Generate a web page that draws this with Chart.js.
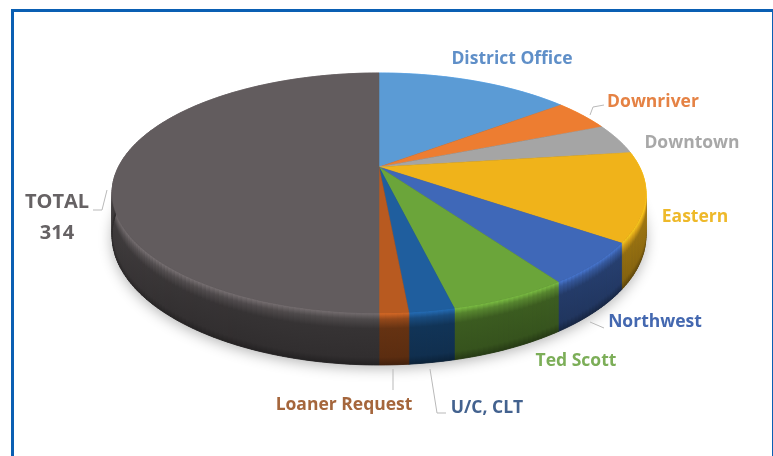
<!DOCTYPE html>
<html>
<head>
<meta charset="utf-8">
<title>Total 314</title>
<script src="https://cdn.jsdelivr.net/npm/chart.js@4"></script>
<style>
	html, body { margin: 0; padding: 0; background: #fff; overflow: hidden; }
	#wrap { position: relative; width: 773px; height: 456px; overflow: hidden; }
	#frame { position: absolute; left: 11px; top: 9px; width: 758px; height: 500px; border: 3px solid #0a5fb3; }
	canvas { position: absolute; left: 0; top: 0; filter: blur(0.7px); }
</style>
</head>
<body>
<div id="wrap">
	<div id="frame"></div>
	<canvas id="canvasPie" width="773" height="456"></canvas>
</div>
<script>
"use strict";

var categories = ['District Office', 'Downriver', 'Downtown', 'Eastern', 'Northwest', 'Ted Scott', 'U/C, CLT', 'Loaner Request', 'TOTAL'];
var values = [91, 27, 26, 75, 35, 37, 14, 9, 314];
var sliceColors = ['#5b9bd5', '#ed7d31', '#a5a5a5', '#f0b31a', '#3f68b8', '#6ba53a', '#1f5e9e', '#b85a20', '#625c5e'];
var labelColors = ['#5f8fc8', '#e58244', '#a8a8a8', '#eeb92a', '#4468b0', '#7cae58', '#43628f', '#a5663c', '#666264'];

// where each label sits (centre x, baseline y)
var labelSpots = [[512, 64], [653, 107], [692, 148], [695, 222], [655, 327], [576, 366], [487, 413], [344, 410], [57, 208]];
var labelSizes = [17.5, 17.5, 17.5, 17.5, 17.5, 17.5, 17.5, 17.5, 20];

// leader lines
var leaders = [
	[[590, 115], [593, 107], [604, 105]],
	[[590, 322], [604, 328]],
	[[393, 369], [393, 390]],
	[[430, 369], [437, 413], [446, 413]],
	[[107, 190], [102, 210], [93, 210]]
];

// perspective of the disc
var disc = { x: 379, y: 167, a: 260.6, b: 114.4, k: 0.2167, depth: 40.7 };

function Project(angle, t) {
	var u = Math.cos(angle);
	var v = Math.sin(angle);
	var w = 1 - disc.k * v;
	return {
		x: disc.x + disc.a * u / w,
		y: disc.y + (disc.b * v + disc.depth * t) / w
	};
}

function Shade(hex, f) {
	var n = parseInt(hex.slice(1), 16);
	var r = Math.min(255, Math.round((n >> 16 & 255) * f));
	var g = Math.min(255, Math.round((n >> 8 & 255) * f));
	var b = Math.min(255, Math.round((n & 255) * f));
	return `rgb(${r},${g},${b})`;
}

function RimPath(ctx, t) {
	ctx.beginPath();
	for (var d = 0; d < 360; d += 2) {
		var p = Project(d * Math.PI / 180, t);
		if (d === 0) ctx.moveTo(p.x, p.y);
		else ctx.lineTo(p.x, p.y);
	}
	ctx.closePath();
}

function DrawWall(ctx, arc, color) {
	var step = Math.PI / 180;
	for (var a = arc.startAngle; a < arc.endAngle - 0.0001; a += step) {
		var b = Math.min(a + step, arc.endAngle);
		var top1 = Project(a, 0), top2 = Project(b, 0);
		var bot1 = Project(a, 1), bot2 = Project(b, 1);
		var u = Math.cos(a);
		var f = 1 + 0.25 * u * u * u * u;
		var g = ctx.createLinearGradient(0, top1.y, 0, bot1.y);
		g.addColorStop(0, Shade(color, 1.18));
		g.addColorStop(0.12, Shade(color, 0.8 * f));
		g.addColorStop(0.3, Shade(color, 0.55 * f));
		g.addColorStop(0.85, Shade(color, 0.5 * f));
		g.addColorStop(1, Shade(color, 0.36 * f));
		ctx.fillStyle = g;
		ctx.strokeStyle = g;
		ctx.lineWidth = 0.8;
		ctx.beginPath();
		ctx.moveTo(top1.x, top1.y);
		ctx.lineTo(top2.x, top2.y);
		ctx.lineTo(bot2.x, bot2.y);
		ctx.lineTo(bot1.x, bot1.y);
		ctx.closePath();
		ctx.fill();
		ctx.stroke();
	}
}

function DrawTop(ctx, arc, color) {
	ctx.fillStyle = color;
	ctx.strokeStyle = color;
	ctx.lineWidth = 0.5;
	ctx.beginPath();
	ctx.moveTo(disc.x, disc.y);
	var n = Math.max(2, Math.ceil((arc.endAngle - arc.startAngle) / 0.02));
	for (var i = 0; i <= n; i++) {
		var p = Project(arc.startAngle + (arc.endAngle - arc.startAngle) * i / n, 0);
		ctx.lineTo(p.x, p.y);
	}
	ctx.closePath();
	ctx.fill();
	ctx.stroke();
}

// the library lays out the slices, this tilts them into the 3D disc
var tiltedPie = {
	id: 'tiltedPie',
	beforeDatasetsDraw: function (chart) {
		var ctx = chart.ctx;
		var arcs = chart.getDatasetMeta(0).data;

		ctx.save();
		ctx.shadowColor = 'rgba(0,0,0,0.3)';
		ctx.shadowBlur = 14;
		ctx.shadowOffsetY = 3;
		ctx.fillStyle = '#333';
		RimPath(ctx, 1);
		ctx.fill();
		ctx.restore();

		arcs.forEach(function (arc, i) { DrawWall(ctx, arc, sliceColors[i]); });
		arcs.forEach(function (arc, i) { DrawTop(ctx, arc, sliceColors[i]); });
		return false;
	},
	// returning false above also skips afterDatasetsDraw, so labels go here
	afterDraw: function (chart) {
		var ctx = chart.ctx;
		ctx.save();

		ctx.strokeStyle = '#b9b9b9';
		ctx.lineWidth = 1;
		leaders.forEach(function (line) {
			ctx.beginPath();
			line.forEach(function (p, i) {
				if (i === 0) ctx.moveTo(p[0], p[1]);
				else ctx.lineTo(p[0], p[1]);
			});
			ctx.stroke();
		});

		ctx.textAlign = 'center';
		ctx.textBaseline = 'alphabetic';
		categories.forEach(function (name, i) {
			ctx.font = `700 ${labelSizes[i]}px "Open Sans"`;
			ctx.fillStyle = labelColors[i];
			ctx.fillText(name, labelSpots[i][0], labelSpots[i][1]);
		});
		ctx.fillStyle = labelColors[8];
		ctx.fillText(String(values[8]), labelSpots[8][0], labelSpots[8][1] + 31);
		ctx.restore();
	}
};

const context = document.getElementById('canvasPie');
const myChart = new Chart(context, {
	type: 'pie',
	data: {
		labels: categories,
		datasets: [{
			data: values,
			backgroundColor: sliceColors,
			borderWidth: 0
		}]
	},
	options: {
		responsive: false,
		animation: false,
		events: [],
		plugins: {
			legend: { display: false },
			tooltip: { enabled: false }
		}
	},
	plugins: [tiltedPie]
});
</script>
</body>
</html>
